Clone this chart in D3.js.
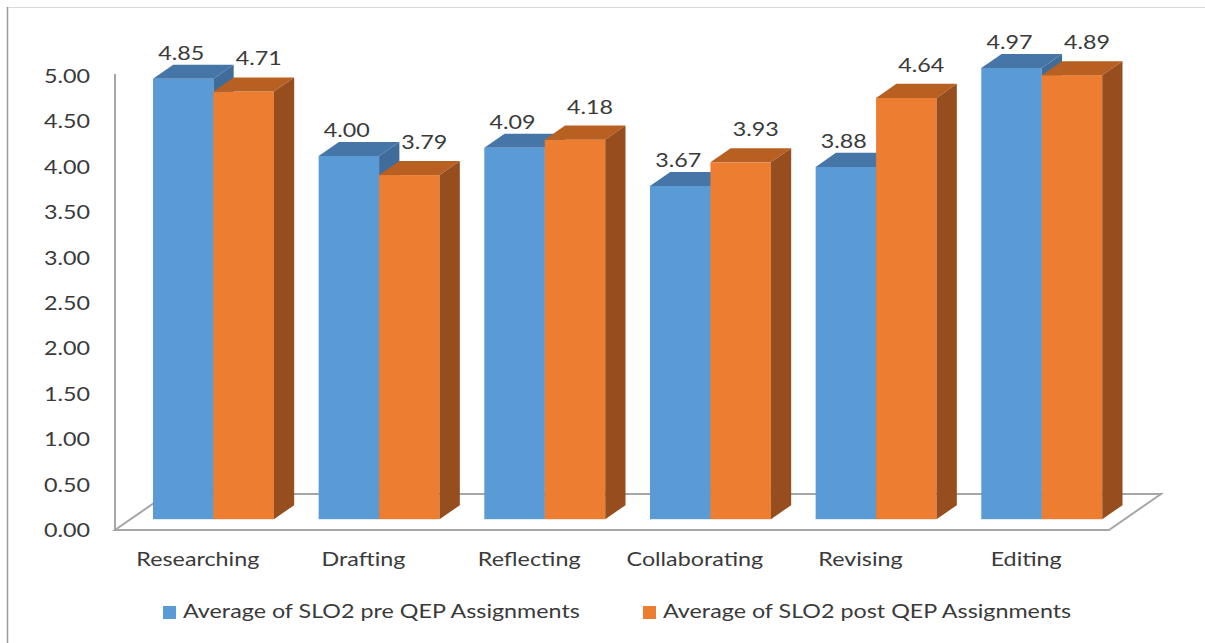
<!DOCTYPE html>
<html>
<head>
<meta charset="utf-8">
<script src="https://cdn.jsdelivr.net/npm/d3@7"></script>
<style>
  html, body { margin: 0; padding: 0; background: #ffffff; }
  svg { display: block; }
  text { font-family: Lato, "Open Sans", sans-serif; fill: #3a3a3a; }
</style>
</head>
<body>
<svg id="chart" width="1205" height="643"></svg>
<script>
// ---- data ----
const categories = ["Researching", "Drafting", "Reflecting", "Collaborating", "Revising", "Editing"];
const seriesNames = ["Average of SLO2 pre QEP Assignments", "Average of SLO2 post QEP Assignments"];
const preValues  = [4.85, 4.00, 4.09, 3.67, 3.88, 4.97];
const postValues = [4.71, 3.79, 4.18, 3.93, 4.64, 4.89];
const yTickValues = [0, 0.5, 1, 1.5, 2, 2.5, 3, 3.5, 4, 4.5, 5];

// ---- style ----
const colors = [
  { front: "#5B9BD5", top: "#4676A8", side: "#3F6C98" },
  { front: "#ED7D31", top: "#B85F22", side: "#974E1E" }
];
const SX = 1.26;       // horizontal text stretch
const FS = 18.5;

const svg = d3.select("#chart");

// outer border
svg.append("line").attr("x1", 7).attr("x2", 1205).attr("y1", 7.5).attr("y2", 7.5)
  .attr("stroke", "#D9D9D9").attr("stroke-width", 1);
svg.append("line").attr("x1", 7.5).attr("x2", 7.5).attr("y1", 7).attr("y2", 643)
  .attr("stroke", "#9A9A9A").attr("stroke-width", 1.5);

// geometry
const x0 = 115, x1 = 1109, yBase = 530, yTop = 76;
const DX = 52, DY = -36;           // full floor depth
const d0 = 0.3, d1 = 0.69;         // bar depth span

const x = d3.scaleBand().domain(categories).range([x0, x1]).padding(0);
const xs = d3.scaleBand().domain(seriesNames).range([0, x.bandwidth()])
  .paddingInner(0).paddingOuter(0.37);
const y = d3.scaleLinear().domain([0, 5]).range([yBase, yTop]);

// floor
const floorPts = [[x0, yBase], [x1, yBase], [x1 + DX, yBase + DY], [x0 + DX, yBase + DY]];
svg.append("polygon").attr("points", floorPts.map(p => p.join(",")).join(" "))
  .attr("fill", "#ffffff").attr("stroke", "#A6A6A6").attr("stroke-width", 2)
  .attr("stroke-linejoin", "miter");

// vertical axis line
svg.append("line").attr("x1", x0).attr("x2", x0).attr("y1", y(5) - 2).attr("y2", yBase)
  .attr("stroke", "#A6A6A6").attr("stroke-width", 2);

// y axis labels
const yAxis = d3.axisLeft(y).tickValues(yTickValues).tickFormat(d3.format(".2f"))
  .tickSize(0).tickPadding(0);
const gy = svg.append("g").attr("transform", `translate(${x0},0)`).call(yAxis);
gy.select(".domain").remove();
gy.selectAll("text").attr("x", -25 / SX).attr("dy", "0.35em")
  .attr("transform", `scale(${SX},1)`)
  .style("font-family", "Lato, sans-serif").style("font-size", FS + "px").attr("fill", "#3a3a3a");

// x axis labels
const xAxis = d3.axisBottom(x).tickSize(0).tickPadding(0);
const gx = svg.append("g").attr("transform", `translate(0,${yBase})`).call(xAxis);
gx.select(".domain").remove();
gx.selectAll("text").attr("y", 30).attr("dy", "0.35em")
  .attr("transform", `scale(${SX},1)`)
  .style("font-family", "Lato, sans-serif").style("font-size", FS + "px").attr("fill", "#3a3a3a");

// bars
const sdx0 = d0 * DX, sdy0 = d0 * DY;
const bdx = (d1 - d0) * DX, bdy = (d1 - d0) * DY;
const bw = xs.bandwidth();
const allValues = [preValues, postValues];

const groups = svg.append("g").selectAll("g.cat").data(categories).join("g").attr("class", "cat");
groups.each(function(cat, ci) {
  const g = d3.select(this);
  seriesNames.forEach((s, si) => {
    const v = allValues[si][ci];
    const bx = x(cat) + xs(s) + sdx0;
    const yf = y(v) + sdy0;      // front-top y
    const yb = y(0) + sdy0;      // front-bottom y
    const c = colors[si];
    g.append("rect").attr("x", bx).attr("y", yf).attr("width", bw).attr("height", yb - yf)
      .attr("fill", c.front);
    g.append("polygon").attr("points", [
      [bx, yf], [bx + bw, yf], [bx + bw + bdx, yf + bdy], [bx + bdx, yf + bdy]
    ].map(p => p.join(",")).join(" ")).attr("fill", c.top);
    g.append("polygon").attr("points", [
      [bx + bw, yf], [bx + bw, yb], [bx + bw + bdx, yb + bdy], [bx + bw + bdx, yf + bdy]
    ].map(p => p.join(",")).join(" ")).attr("fill", c.side);
  });
});

// data labels
groups.each(function(cat, ci) {
  const g = d3.select(this);
  seriesNames.forEach((s, si) => {
    const v = allValues[si][ci];
    const bx = x(cat) + xs(s) + sdx0;
    const yf = y(v) + sdy0;
    const cx = bx + bw / 2 + (si === 0 ? -2 : 15);
    const by = yf + bdy - (si === 0 ? 5 : 12);
    g.append("text").attr("transform", `translate(${cx},${by}) scale(${SX},1)`)
      .attr("text-anchor", "middle").style("font-size", FS + "px")
      .text(d3.format(".2f")(v));
  });
});

// legend
const legendX = [163, 643];
const leg = svg.append("g").selectAll("g").data(seriesNames).join("g")
  .attr("transform", (d, i) => `translate(${legendX[i]},606)`);
leg.append("rect").attr("width", 13).attr("height", 13)
  .attr("fill", (d, i) => colors[i].front);
leg.append("text").attr("transform", `translate(20,12) scale(${SX},1)`)
  .style("font-size", FS + "px").text(d => d);
</script>
</body>
</html>
